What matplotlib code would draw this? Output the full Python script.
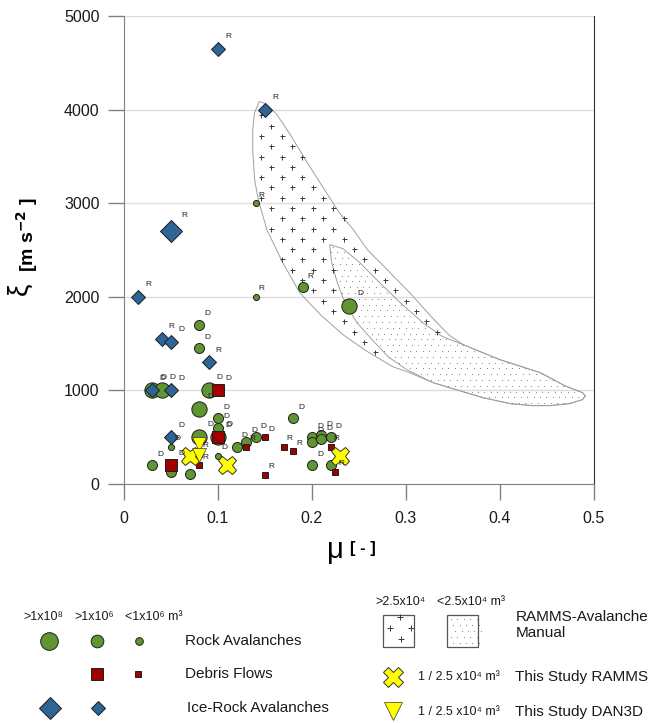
import numpy as np
import matplotlib.pyplot as plt
from matplotlib.path import Path
from matplotlib.patches import Polygon, Rectangle

plt.rcParams['font.family'] = ['Liberation Sans', 'DejaVu Sans']

### Data (mu [-], xi [m s-2]); size class L >1e8, M >1e6, S <1e6 m3; label = model (D / R)
rock_mu = [0.08, 0.08, 0.03, 0.04, 0.09, 0.08, 0.10, 0.10, 0.10, 0.05, 0.08, 0.10, 0.12, 0.13,
           0.14, 0.18, 0.20, 0.20, 0.21, 0.21, 0.22, 0.20, 0.22, 0.03, 0.05, 0.07, 0.14, 0.14,
           0.19, 0.24]
rock_xi = [1700, 1450, 1000, 1000, 1000, 800, 700, 600, 500, 400, 500, 300, 400, 450,
           500, 700, 500, 450, 520, 480, 500, 200, 200, 200, 130, 110, 3000, 2000,
           2100, 1900]
rock_cls = ['M', 'M', 'L', 'L', 'L', 'L', 'M', 'M', 'L', 'S', 'L', 'S', 'M', 'M',
            'M', 'M', 'M', 'M', 'M', 'M', 'M', 'M', 'M', 'M', 'M', 'M', 'S', 'S',
            'M', 'L']
rock_lab = ['D', 'D', 'D', 'D', 'D', 'D', 'D', 'D', 'D', 'D', 'D', 'D', 'D', 'D',
            'D', 'D', 'D', 'D', 'D', 'D', 'D', 'D', '', 'D', '', '', 'R', 'R',
            'R', 'D']

debris_mu = [0.10, 0.10, 0.08, 0.08, 0.13, 0.15, 0.17, 0.18, 0.15, 0.22, 0.225, 0.05]
debris_xi = [1000, 500, 200, 320, 400, 500, 400, 350, 100, 400, 130, 200]
debris_cls = ['L', 'L', 'S', 'S', 'S', 'S', 'S', 'S', 'S', 'S', 'S', 'L']
debris_lab = ['D', 'D', 'R', 'R', 'R', 'D', 'R', 'R', 'R', 'R', 'R', 'D']

ice_mu = [0.10, 0.15, 0.05, 0.015, 0.04, 0.05, 0.09, 0.03, 0.05, 0.05]
ice_xi = [4650, 4000, 2700, 2000, 1550, 1520, 1300, 1000, 1000, 500]
ice_cls = ['M', 'M', 'L', 'M', 'M', 'M', 'M', 'M', 'M', 'M']
ice_lab = ['R', 'R', 'R', 'R', 'R', 'D', 'R', 'D', 'D', 'D']

ramms_mu = [0.07, 0.11, 0.23]
ramms_xi = [300, 200, 300]
dan3d_mu = [0.08, 0.08]
dan3d_xi = [430, 310]

# RAMMS avalanche manual ranges (outline)
big_mu = [0.144, 0.151, 0.162, 0.177, 0.195, 0.212, 0.229, 0.244, 0.259, 0.280, 0.304, 0.327,
          0.346, 0.361, 0.400, 0.443, 0.469, 0.488, 0.491, 0.488, 0.474, 0.453, 0.435, 0.411,
          0.382, 0.357, 0.329, 0.304, 0.286, 0.259, 0.233, 0.209, 0.187, 0.169, 0.152, 0.143,
          0.139, 0.137, 0.137, 0.139]
big_xi = [4085, 4063, 3956, 3732, 3433, 3166, 2899, 2717, 2503, 2290, 2044, 1787,
          1590, 1488, 1328, 1189, 1050, 975, 943, 901, 858, 837, 837, 858,
          922, 997, 1082, 1189, 1253, 1414, 1595, 1809, 2044, 2364, 2717, 3037,
          3251, 3572, 3785, 3967]
small_mu = [0.219, 0.233, 0.251, 0.272, 0.294, 0.318, 0.339, 0.361, 0.400, 0.443, 0.469, 0.488,
            0.491, 0.488, 0.474, 0.453, 0.435, 0.411, 0.382, 0.357, 0.329, 0.301, 0.281, 0.264,
            0.248, 0.235, 0.227, 0.221]
small_xi = [2557, 2514, 2364, 2151, 1937, 1723, 1574, 1488, 1328, 1189, 1050, 975,
            943, 901, 858, 837, 837, 858, 922, 997, 1082, 1221, 1360, 1542,
            1723, 1937, 2151, 2364]

### Styles
green, red, blue, yellow, edge = '#5f9632', '#a00000', '#2f6498', '#ffff00', '#1e1e1e'
rock_ms = {'L': 11, 'M': 7.2, 'S': 4.4}
debris_ms = {'L': 9.0, 'S': 4.4}
ice_ms = {'L': 11.2, 'M': 6.8}
# label offsets (points) per marker size
rock_off = {'L': (8, 9.4), 'M': (5.8, 7.9), 'S': (4.3, 5.8)}
debris_off = {'L': (7.2, 8.6), 'S': (4.3, 5.8)}
ice_off = {'L': (10, 11.5), 'M': (7.2, 8.6)}

fig = plt.figure(figsize=(6.49, 7.23), dpi=100)
ax = fig.add_axes([0.191, 0.3306, 0.724, 0.6474])
ax.set_xlim(0, 0.5)
ax.set_ylim(0, 5000)

# region outlines
big_path = Path(np.column_stack([big_mu, big_xi]))
small_path = Path(np.column_stack([small_mu, small_xi]))
ax.add_patch(Polygon(np.column_stack([big_mu, big_xi]), closed=True, fill=False,
                     ec='#a0a0a0', lw=0.7, zorder=1.5))
ax.add_patch(Polygon(np.column_stack([small_mu, small_xi]), closed=True, fill=False,
                     ec='#a0a0a0', lw=0.7, zorder=1.5))

# "+" texture in the >2.5e4 range, dots in the <2.5e4 range
gx, gy = np.meshgrid(np.arange(0.1017, 0.5, 0.022), np.arange(-22, 4200, 110))
gx = gx + (np.arange(gx.shape[0])[:, None] % 2) * 0.011
pts = np.column_stack([gx.ravel(), gy.ravel()])
keep = big_path.contains_points(pts) & ~small_path.contains_points(pts)
ax.plot(pts[keep, 0], pts[keep, 1], '+', color='#3a3a3a', ms=3.6, mew=0.7, zorder=1.6)

dx, dy = np.meshgrid(np.arange(0.2, 0.5, 0.0068), np.arange(800, 2600, 62))
dx = dx + (np.arange(dx.shape[0])[:, None] % 3) * 0.0023
dpts = np.column_stack([dx.ravel(), dy.ravel()])
dkeep = small_path.contains_points(dpts)
ax.plot(dpts[dkeep, 0], dpts[dkeep, 1], 'o', color='#808080', ms=0.8, mew=0, zorder=1.6)


def draw_group(mu, xi, cls, lab, marker, color, ms_map, off_map, z):
    mu, xi, cls = np.array(mu), np.array(xi), np.array(cls)
    for c, ms in ms_map.items():
        sel = cls == c
        ax.plot(mu[sel], xi[sel], marker, ms=ms, mfc=color, mec=edge, mew=0.7,
                ls='none', zorder=z)
    for m, x, c, t in zip(mu, xi, cls, lab):
        if t:
            ax.annotate(t, (m, x), xytext=off_map[c], textcoords='offset points',
                        ha='center', va='center', fontsize=6, color='#222222', zorder=9)


draw_group(rock_mu, rock_xi, rock_cls, rock_lab, 'o', green, rock_ms, rock_off, 3)
draw_group(debris_mu, debris_xi, debris_cls, debris_lab, 's', red, debris_ms, debris_off, 4)
draw_group(ice_mu, ice_xi, ice_cls, ice_lab, 'D', blue, ice_ms, ice_off, 5)
ax.plot(ramms_mu, ramms_xi, 'X', ms=13, mfc=yellow, mec='#333333', mew=0.7, ls='none', zorder=6)
ax.plot(dan3d_mu, dan3d_xi, 'v', ms=9.6, mfc=yellow, mec='#333333', mew=0.5, ls='none', zorder=7)

# axes styling
ax.set_xticks([0, 0.1, 0.2, 0.3, 0.4, 0.5])
ax.set_xticklabels(['0', '0.1', '0.2', '0.3', '0.4', '0.5'])
ax.set_yticks([0, 1000, 2000, 3000, 4000, 5000])
ax.yaxis.grid(True, color='#dddddd', lw=1)
ax.set_axisbelow(True)
ax.tick_params(direction='out', length=11.5, width=1, color='#808080',
               labelsize=11.5, labelcolor='#1a1a1a')
ax.tick_params(axis='x', pad=8)
ax.tick_params(axis='y', pad=6)
ax.spines['top'].set_visible(False)
ax.spines['left'].set_color('#808080')
ax.spines['bottom'].set_color('#808080')
ax.spines['right'].set_color('#303030')

# axis titles
fig.text(335 / 649, 1 - 550 / 723, 'μ', fontsize=21, ha='center', va='center')
fig.text(350 / 649, 1 - 548 / 723, '[ - ]', fontsize=12, weight='bold', ha='left', va='center')
fig.text(20 / 649, 1 - 289 / 723, 'ξ', fontsize=20, rotation=90, ha='center', va='center')
fig.text(27 / 649, 1 - 235 / 723, '[m s$^{\\mathbf{-2}}$ ]', fontsize=14, weight='bold',
         rotation=90, ha='center', va='center')

### Legend (drawn in pixel space below the plot)
lax = fig.add_axes([0, 0, 1, 1])
lax.set_xlim(0, 649)
lax.set_ylim(723, 0)
lax.axis('off')

hdr = dict(fontsize=9, ha='left', va='center', color='#1a1a1a')
lax.text(23, 617, '>1x10⁸', **hdr)
lax.text(74, 617, '>1x10⁶', **hdr)
lax.text(125, 617, '<1x10⁶ m³', **hdr)
lab = dict(fontsize=11, ha='left', va='center', color='#1a1a1a')

lax.plot([49], [641], 'o', ms=12.7, mfc=green, mec=edge, mew=0.7)
lax.plot([97], [641], 'o', ms=9.1, mfc=green, mec=edge, mew=0.7)
lax.plot([139], [641], 'o', ms=5.5, mfc=green, mec=edge, mew=0.7)
lax.text(185, 641, 'Rock Avalanches', **lab)
lax.plot([97], [674], 's', ms=8.9, mfc=red, mec=edge, mew=0.7)
lax.plot([138], [674], 's', ms=4.8, mfc=red, mec=edge, mew=0.7)
lax.text(185, 674, 'Debris Flows', **lab)
lax.plot([50], [708], 'D', ms=11.2, mfc=blue, mec=edge, mew=0.7)
lax.plot([98], [708], 'D', ms=7.6, mfc=blue, mec=edge, mew=0.7)
lax.text(187, 708, 'Ice-Rock Avalanches', **lab)

lax.text(375, 602, '>2.5x10⁴', **hdr)
lax.text(437, 602, '<2.5x10⁴ m³', **hdr)
lax.add_patch(Rectangle((383, 615), 31, 32, fill=False, ec='#555555', lw=0.9))
lax.add_patch(Rectangle((447, 615), 31, 32, fill=False, ec='#555555', lw=0.9))
lax.plot([400, 390, 410.7, 400.7], [617.3, 628.3, 628.3, 639], '+', color='#3a3a3a',
         ms=4, mew=0.7)
bx, by = np.meshgrid(np.arange(451, 477, 6.4), np.arange(619, 645, 6))
bx = bx + (np.arange(bx.shape[0])[:, None] % 3) * 2.1
lax.plot(bx.ravel(), by.ravel(), 'o', color='#808080', ms=0.8, mew=0)
lax.text(516, 617, 'RAMMS-Avalanche', **lab)
lax.text(516, 633, 'Manual', **lab)

lax.plot([392.7], [677.3], 'X', ms=13.7, mfc=yellow, mec='#333333', mew=0.7)
lax.text(418, 677, '1 / 2.5 x10⁴ m³', **hdr)
lax.text(515, 677, 'This Study RAMMS', **lab)
lax.plot([393.3], [710.5], 'v', ms=12.7, mfc=yellow, mec='#333333', mew=0.5)
lax.text(418, 712, '1 / 2.5 x10⁴ m³', **hdr)
lax.text(515, 712, 'This Study DAN3D', **lab)

fig.savefig('out.png', dpi=100)
